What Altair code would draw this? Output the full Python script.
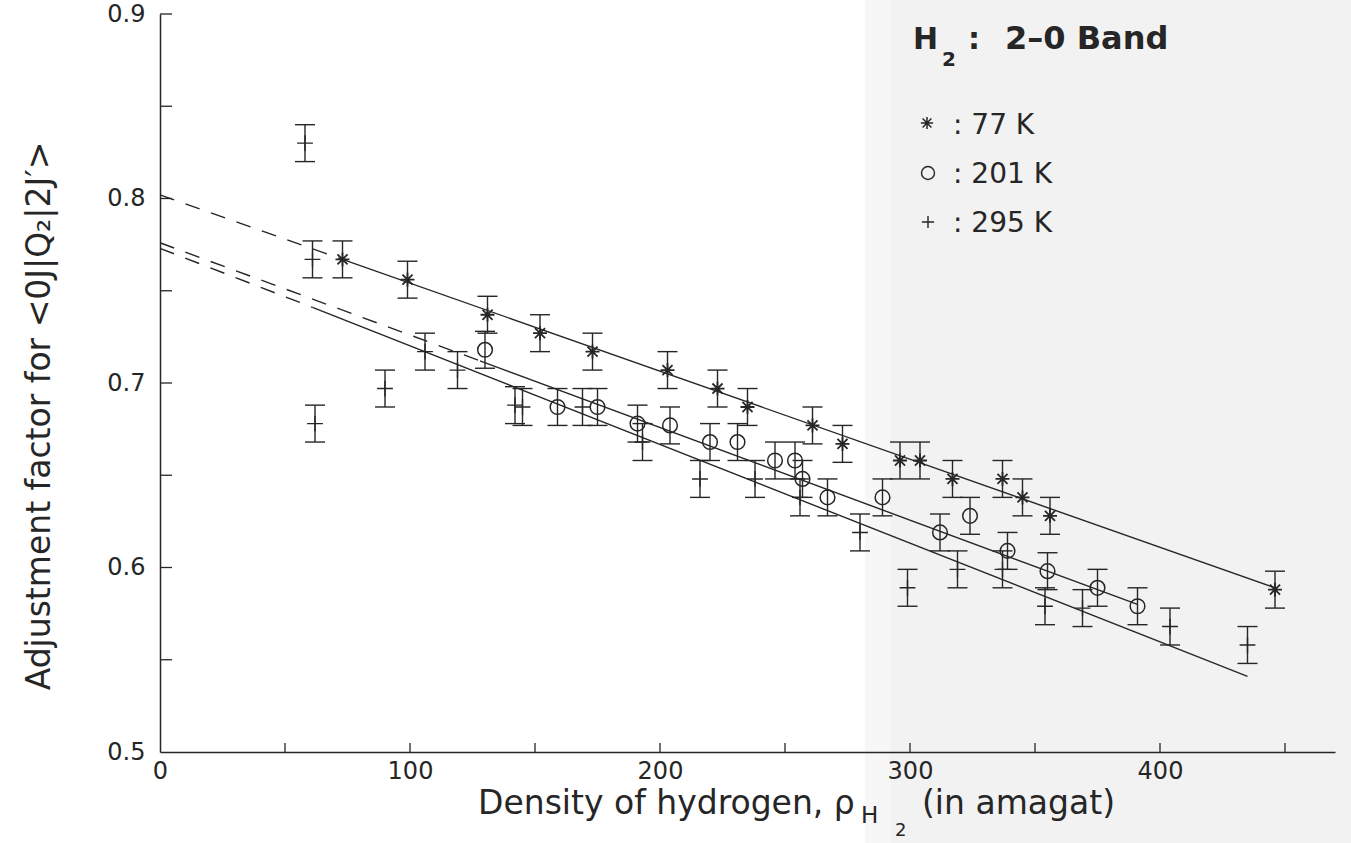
import altair as alt
import pandas as pd

# ---- data (density in amagat, adjustment factor) ----
# 77 K (asterisks)
rho_77 = [73, 99, 131, 152, 173, 203, 223, 235, 261, 273, 296, 304, 317, 337, 345, 356, 446]
adj_77 = [0.767, 0.756, 0.737, 0.727, 0.717, 0.707, 0.697, 0.687, 0.677, 0.667,
          0.658, 0.658, 0.648, 0.648, 0.638, 0.628, 0.588]
# 201 K (circles)
rho_201 = [130, 159, 175, 191, 204, 220, 231, 246, 254, 257, 267, 289, 312, 324, 339, 355, 375, 391]
adj_201 = [0.718, 0.687, 0.687, 0.678, 0.677, 0.668, 0.668, 0.658, 0.658, 0.648,
           0.638, 0.638, 0.619, 0.628, 0.609, 0.598, 0.589, 0.579]
# 295 K (plus)
rho_295 = [58, 61, 62, 90, 106, 119, 142, 145, 169, 193, 216, 238, 256, 280, 299,
           319, 337, 354, 369, 404, 435]
adj_295 = [0.830, 0.767, 0.678, 0.697, 0.717, 0.707, 0.688, 0.687, 0.687, 0.668,
           0.648, 0.648, 0.638, 0.619, 0.589, 0.599, 0.599, 0.579, 0.578, 0.568, 0.558]
err_half = 0.010

# linear fits: dashed extrapolation to zero density, solid over the data
fit_series = ["77 K", "77 K", "201 K", "201 K", "295 K", "295 K"]
dash_rho = [0, 73, 0, 128, 0, 61]
dash_adj = [0.802, 0.767, 0.776, 0.712, 0.773, 0.741]
solid_rho = [73, 446, 128, 391, 61, 435]
solid_adj = [0.767, 0.589, 0.712, 0.580, 0.741, 0.541]

x_label_vals = [0, 100, 200, 300, 400]
y_label_vals = [0.5, 0.6, 0.7, 0.8, 0.9]
x_tick_vals = [50, 100, 150, 200, 250, 300, 350, 400, 450]
y_tick_vals = [0.55, 0.6, 0.65, 0.7, 0.75, 0.8, 0.85, 0.9]

# ---- frames ----
def series_df(rho, adj):
    return pd.DataFrame({"rho": rho, "adj": adj,
                         "lo": [v - err_half for v in adj],
                         "hi": [v + err_half for v in adj]})

d77 = series_df(rho_77, adj_77)
d201 = series_df(rho_201, adj_201)
d295 = series_df(rho_295, adj_295)
pts = pd.concat([d77, d201, d295], ignore_index=True)
dash_df = pd.DataFrame({"rho": dash_rho, "adj": dash_adj, "fit": fit_series})
solid_df = pd.DataFrame({"rho": solid_rho, "adj": solid_adj, "fit": fit_series})
one = pd.DataFrame({"k": [0]})

INK = "#262626"
FONT = "DejaVu Sans"
LBL = 24
TOP = 14
W, H = 1175, 738
xs = alt.Scale(domain=[0, 470], nice=False, zero=False)
ys = alt.Scale(domain=[0.5, 0.9], nice=False, zero=False)

x_axis = alt.Axis(values=x_label_vals, format="d", tickSize=0, labelPadding=7,
                  labelFontSize=LBL, labelFont=FONT, labelColor=INK, domainColor=INK,
                  domainWidth=1.5, grid=False, title=None, labelFlush=False,
                  labelOverlap=False, zindex=1)
y_axis = alt.Axis(values=y_label_vals, format=".1f", tickSize=0, labelPadding=15,
                  labelFontSize=LBL, labelFont=FONT, labelColor=INK, domainColor=INK,
                  domainWidth=1.5, grid=False, title=None, labelFlush=False,
                  labelOverlap=False, zindex=1)


def X(field):
    return alt.X(field, type="quantitative", scale=xs, axis=x_axis)


def Y(field):
    return alt.Y(field, type="quantitative", scale=ys, axis=y_axis)


STAR = "M-1,0L1,0M0,-1L0,1M-0.72,-0.72L0.72,0.72M-0.72,0.72L0.72,-0.72"
PLUS = "M-1,0L1,0M0,-1L0,1"

bg1 = alt.Chart(one).mark_rect(color="#f7f7f7").encode(
    x=alt.value(705), x2=alt.value(730), y=alt.value(-TOP), y2=alt.value(843))
bg2 = alt.Chart(one).mark_rect(color="#f2f2f2").encode(
    x=alt.value(730), x2=alt.value(1191), y=alt.value(-TOP), y2=alt.value(843))

dashed = alt.Chart(dash_df).mark_line(strokeDash=[15, 12], strokeWidth=1.4, color=INK).encode(
    x=X("rho"), y=Y("adj"), detail="fit:N")
solid = alt.Chart(solid_df).mark_line(strokeWidth=1.4, color=INK).encode(
    x=X("rho"), y=Y("adj"), detail="fit:N")

bars = alt.Chart(pts).mark_rule(color=INK, strokeWidth=1.4).encode(
    x=X("rho"), y=Y("lo"), y2="hi:Q")
cap_lo = alt.Chart(pts).mark_tick(orient="horizontal", size=20, thickness=1.4,
                                  color=INK, opacity=1).encode(x=X("rho"), y=Y("lo"))
cap_hi = alt.Chart(pts).mark_tick(orient="horizontal", size=20, thickness=1.4,
                                  color=INK, opacity=1).encode(x=X("rho"), y=Y("hi"))


def markers(df, shape, size, sw=1.5):
    return alt.Chart(df).mark_point(shape=shape, filled=False, size=size,
                                    strokeWidth=sw, color=INK, opacity=1).encode(
        x=X("rho"), y=Y("adj"))


m77 = markers(d77, STAR, 196, 1.8)
m201 = markers(d201, "circle", 215, 1.5)
m295 = markers(d295, PLUS, 250, 1.4)

xt = alt.Chart(pd.DataFrame({"v": x_tick_vals})).mark_rule(color=INK, strokeWidth=1.3).encode(
    x=X("v"), y=alt.value(H), y2=alt.value(H - 9))
yt = alt.Chart(pd.DataFrame({"v": y_tick_vals})).mark_rule(color=INK, strokeWidth=1.3).encode(
    y=Y("v"), x=alt.value(0), x2=alt.value(12))


def txt(s, x, y, size, weight="normal", align="left", angle=0, baseline="alphabetic"):
    # x, y given in page pixels; converted to plot-area coordinates
    return alt.Chart(one).mark_text(text=s, font=FONT, fontSize=size, fontWeight=weight,
                                    align=align, baseline=baseline, angle=angle,
                                    color=INK).encode(x=alt.value(x - 160), y=alt.value(y - TOP))


texts = [
    txt("Adjustment factor for <0J|Q\u2082|2J\u2032>", 40, 416, 33, align="center",
        angle=270, baseline="middle"),
    txt("Density of hydrogen, \u03c1", 478, 814, 33),
    txt("H", 861, 823, 23),
    txt("2", 895, 836, 18),
    txt("(in amagat)", 922, 814, 33),
    txt("H", 913, 49, 30, weight="bold"),
    txt("2", 942, 66, 20, weight="bold"),
    txt(":", 968, 49, 30, weight="bold"),
    txt("2\u20130 Band", 1005, 49, 32, weight="bold"),
    txt(": 77 K", 953, 134, 28),
    txt(": 201 K", 953, 183, 28),
    txt(": 295 K", 953, 232, 28),
]


def leg(shape, size, sw, x, y):
    return alt.Chart(one).mark_point(shape=shape, filled=False, size=size, strokeWidth=sw,
                                     color=INK, opacity=1).encode(
        x=alt.value(x - 160), y=alt.value(y - TOP))


leg_star = leg(STAR, 150, 1.5, 927, 123)
leg_circ = leg("circle", 170, 1.4, 928, 173)
leg_plus = leg(PLUS, 150, 1.4, 928, 222)

chart = alt.layer(
    bg1, bg2, dashed, solid, bars, cap_lo, cap_hi, m77, m201, m295, xt, yt,
    leg_star, leg_circ, leg_plus, *texts
).properties(
    width=W, height=H,
    autosize=alt.AutoSizeParams(type="none"),
    padding={"left": 160, "top": TOP, "right": 16, "bottom": 843 - TOP - H},
    background="white",
).configure_view(stroke=None).configure_axis(
    labelFontSize=LBL, labelFont=FONT, labelColor=INK, domainColor=INK, domainWidth=1.5,
    grid=False, tickSize=0
)

chart.save("out.html", embed_options={"renderer": "svg", "actions": False})
